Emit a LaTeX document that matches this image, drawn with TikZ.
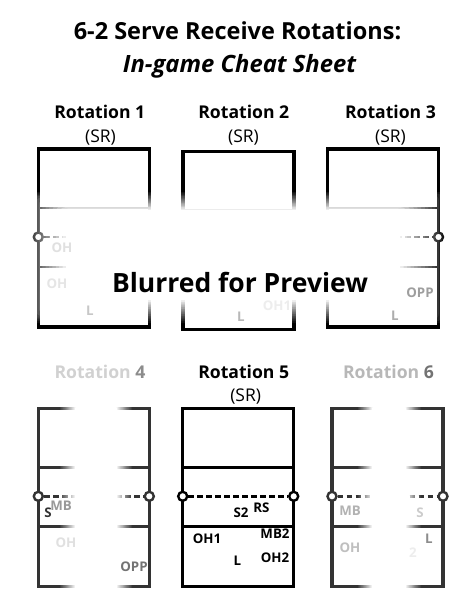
\documentclass[tikz,border=0pt]{standalone}
\usepackage{fontspec}
\setmainfont{Open Sans}
\newcommand\softpatch[8]{%
  \foreach \k in {1,...,14}{%
    \pgfmathsetmacro\tt{(\k-1)/13}%
    \pgfmathsetmacro\aa{1/(15-\k)}%
    \fill[white, fill opacity=\aa, rounded corners=6pt]
      ({#1+(#5-#1)*\tt},{#2+(#6-#2)*\tt}) rectangle ({#3+(#7-#3)*\tt},{#4+(#8-#4)*\tt});
  }}
\newcommand\volleycourt[4]{%
  \draw[courtline, draw=#4] (#2,#3) rectangle ++(111,178);
  \draw[innerline, draw=#4] (#2,#3+59) -- ++(111,0);
  \draw[innerline, draw=#4] (#2,#3+118) -- ++(111,0);
  \node[netpost, draw=#4] (#1l) at (#2,#3+88) {};
  \node[netpost, draw=#4] (#1r) at (#2+111,#3+88) {};
  \draw[netline, draw=#4] (#1l) -- (#1r);
}
\begin{document}
\begin{tikzpicture}[x=1pt,y=-1pt,
  courtline/.style={line width=3.2pt},
  innerline/.style={line width=2.8pt},
  netline/.style={line width=2.8pt, dash pattern=on 5.5pt off 3.5pt},
  netpost/.style={circle, fill=white, line width=2.4pt, inner sep=0pt, minimum size=9pt},
  maintitle/.style={font=\bfseries\fontsize{23.5}{26}\selectfont, inner sep=0pt, anchor=base},
  subtitle/.style={font=\bfseries\itshape\fontsize{23.8}{26}\selectfont, inner sep=0pt, anchor=base},
  rottitle/.style={font=\bfseries\fontsize{17.6}{20}\selectfont, inner sep=0pt, anchor=base},
  srtext/.style={font=\fontsize{17.5}{20}\selectfont, inner sep=0pt, anchor=base},
  poslabel/.style={font=\bfseries\fontsize{13.3}{15}\selectfont, inner sep=0pt, anchor=base},
  previewtext/.style={font=\bfseries\fontsize{26.5}{29}\selectfont, inner sep=0pt, anchor=base}]
\useasboundingbox (0,0) rectangle (474,613);
\fill[white] (0,0) rectangle (474,613);

% titles
\node[maintitle] (t1) at (237.5,39) {6-2 Serve Receive Rotations:};
\node[subtitle] (t2) at (239.5,72) {In-game Cheat Sheet};

% row 1
\node[rottitle] (r1) at (99.8,118) {Rotation 1};
\node[rottitle] (r2) at (243.8,118) {Rotation 2};
\node[rottitle] (r3) at (390.5,118) {Rotation 3};
\node[srtext] (s1) at (100.5,142.7) {(SR)};
\node[srtext] (s2) at (243.5,142.7) {(SR)};
\node[srtext] (s3) at (390.5,142.7) {(SR)};
\volleycourt{ca}{38.3}{149}{black}
\volleycourt{cb}{183}{151.5}{black}
\volleycourt{cc}{327.5}{149}{black}
\softpatch{22}{192}{446}{323}{66}{210}{400}{300}
\node[poslabel, text=black!12] (a1) at (62,252) {OH};
\node[poslabel, text=black!10] (a2) at (57,288) {OH};
\node[poslabel, text=black!22] (a3) at (90,315) {L};
\node[poslabel, text=black!7] (b1) at (277,310) {OH1};
\node[poslabel, text=black!28] (b2) at (241,321) {L};
\node[poslabel, text=black!38] (c1) at (420,297) {OPP};
\node[poslabel, text=black!32] (c2) at (395,320) {L};
\node[previewtext] (bp) at (240,292) {Blurred for Preview};

% row 2
\node[rottitle] (r4) at (100,378) {\textcolor{black!18}{Rotation} \textcolor{black!45}{4}};
\node[rottitle] (r5) at (243.7,378) {Rotation 5};
\node[rottitle] (r6) at (388.5,378) {\textcolor{black!28}{Rotation} \textcolor{black!55}{6}};
\node[srtext] (s5) at (245.7,401.7) {(SR)};
\volleycourt{cd}{38.3}{408.3}{black!80}
\volleycourt{ce}{182.7}{408.3}{black}
\volleycourt{cf}{332}{408.3}{black!80}
\softpatch{60}{396}{132}{600}{75}{403}{117}{593}
\softpatch{358}{396}{421}{600}{372}{403}{406}{593}

% rotation 5 labels
\node[poslabel] (e1) at (241,517) {S2};
\node[poslabel] (e2) at (261.5,512) {RS};
\node[poslabel] (e3) at (207,543) {OH1};
\node[poslabel] (e4) at (275,538) {MB2};
\node[poslabel] (e5) at (237.5,565) {L};
\node[poslabel] (e6) at (275,562) {OH2};

% rotation 4 labels
\node[poslabel, text=black!80] (d1) at (48,517) {S};
\node[poslabel, text=black!40] (d2) at (61,510) {MB};
\node[poslabel, text=black!12] (d3) at (66,547) {OH};
\node[poslabel, text=black!55] (d4) at (134,571) {OPP};

% rotation 6 labels
\node[poslabel, text=black!30] (f1) at (350,515) {MB};
\node[poslabel, text=black!20] (f2) at (420,517) {S};
\node[poslabel, text=black!45] (f3) at (429,543) {L};
\node[poslabel, text=black!25] (f4) at (350,552) {OH};
\node[poslabel, text=black!7] (f5) at (413,557) {2};
\end{tikzpicture}
\end{document}
